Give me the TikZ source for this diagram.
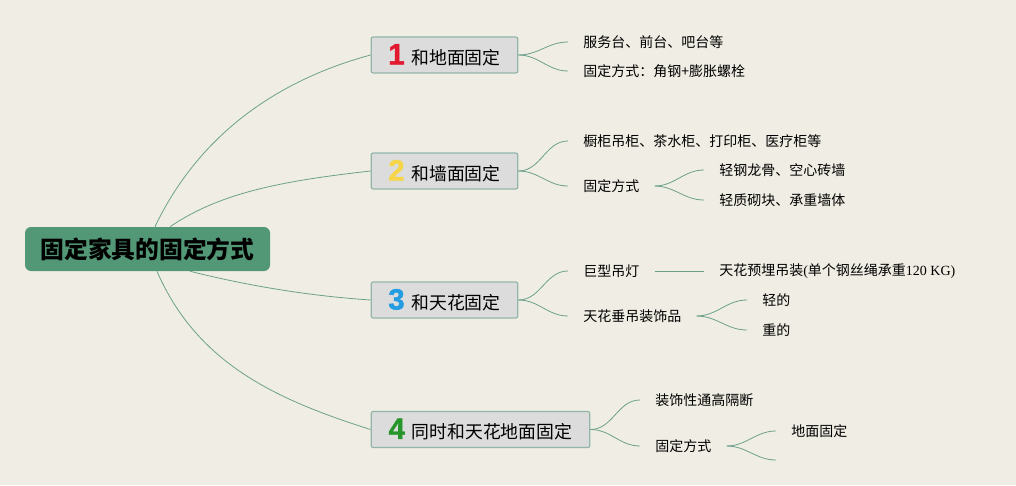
\documentclass[tikz,border=0pt]{standalone}
\usepackage{fontspec}
\setmainfont{Noto Sans CJK SC}
\newfontfamily\latinserif{Liberation Serif}
\newfontfamily\digitfont{Liberation Sans Bold}[FakeBold=1.5]
\usepackage{xcolor}
\usetikzlibrary{positioning}

\definecolor{bgcol}{RGB}{240,238,228}
\definecolor{rootgreen}{RGB}{82,152,118}
\definecolor{linkgreen}{RGB}{108,160,138}
\definecolor{boxborder}{RGB}{148,182,170}
\definecolor{boxfill}{RGB}{220,220,220}
\definecolor{numred}{RGB}{226,24,46}
\definecolor{numyellow}{RGB}{246,214,72}
\definecolor{numblue}{RGB}{36,156,226}
\definecolor{numgreen}{RGB}{38,150,42}

% big coloured number in front of each branch title
\newcommand{\branchnum}[2]{{\digitfont\fontsize{22}{22}\selectfont\color{#1}#2}\hspace{5pt}}

\begin{document}
\begin{tikzpicture}[
    x=0.75pt, y=-0.75pt,
    % central topic
    rootbox/.style={rectangle, rounded corners=4.5pt, fill=rootgreen, minimum width=183.75pt, minimum height=33pt, align=center, font=\fontsize{17.8}{20}\selectfont\bfseries},
    % main branch boxes
    branchbox/.style={rectangle, rounded corners=1.5pt, draw=boxborder, line width=0.9pt, fill=boxfill, minimum width=110pt, minimum height=27pt, inner xsep=4pt, font=\fontsize{13.4}{16}\selectfont},
    % plain text leaves
    leaf/.style={anchor=west, inner xsep=11.25pt, inner ysep=2pt, font=\fontsize{10.5}{12}\selectfont},
    link/.style={draw=linkgreen, line width=0.6pt}
]

\fill[bgcol] (0,0) rectangle (1016,485);

% 1. Central topic
\node[rootbox] (root) at (147.5,249) {固定家具的固定方式};

% 2. Main branches
\node[branchbox] (b1) at (444.5,55) {\branchnum{numred}{1}和地面固定};
\node[branchbox] (b2) at (444.5,171) {\branchnum{numyellow}{2}和墙面固定};
\node[branchbox] (b3) at (444.5,300) {\branchnum{numblue}{3}和天花固定};
\node[branchbox, minimum width=164pt] (b4) at (480.5,429.5) {\branchnum{numgreen}{4}同时和天花地面固定};

% 3. Leaves of branch 1
\node[leaf] (l11) at (568,42) {服务台、前台、吧台等};
\node[leaf] (l12) at (568,71) {固定方式：角钢+膨胀螺栓};

% 4. Leaves of branch 2
\node[leaf] (l21) at (568,141) {橱柜吊柜、茶水柜、打印柜、医疗柜等};
\node[leaf] (l22) at (568,186) {固定方式};
\node[leaf] (l221) at (704,170) {轻钢龙骨、空心砖墙};
\node[leaf] (l222) at (704,200) {轻质砌块、承重墙体};

% 5. Leaves of branch 3
\node[leaf] (l31) at (568,271) {巨型吊灯};
\node[leaf] (l311) at (704,271) {天花预埋吊装{\latinserif(}单个钢丝绳承重{\latinserif 120 KG)}};
\node[leaf] (l32) at (568,316) {天花垂吊装饰品};
\node[leaf] (l321) at (747,300) {轻的};
\node[leaf] (l322) at (747,330) {重的};

% 6. Leaves of branch 4
\node[leaf] (l41) at (640,400) {装饰性通高隔断};
\node[leaf] (l42) at (640,446) {固定方式};
\node[leaf] (l421) at (776,431) {地面固定};
\coordinate (l422) at (776,460);

% 7. Links from the central topic
\draw[link] ([xshift=5.6pt]root.north) .. controls +(43,-90) and +(-96,26) .. (b1.west);
\draw[link] ([xshift=16.9pt]root.north) .. controls +(50,-34) and +(-89,10) .. (b2.west);
\draw[link] ([xshift=31.9pt]root.south) .. controls +(60,15) and +(-60,-4) .. (b3.west);
\draw[link] ([xshift=7.1pt]root.south) .. controls +(40,92) and +(-95,-30) .. (b4.west);

% 8. Links to the leaves
\draw[link] (b1.east) to[out=0, in=180] (l11.west);
\draw[link] (b1.east) to[out=0, in=180] (l12.west);
\draw[link] (b2.east) to[out=0, in=180] (l21.west);
\draw[link] (b2.east) to[out=0, in=180] (l22.west);
\draw[link] (l22.east) to[out=0, in=180] (l221.west);
\draw[link] (l22.east) to[out=0, in=180] (l222.west);
\draw[link] (b3.east) to[out=0, in=180] (l31.west);
\draw[link] (b3.east) to[out=0, in=180] (l32.west);
\draw[link] (l31.east) -- (l311.west);
\draw[link] (l32.east) to[out=0, in=180] (l321.west);
\draw[link] (l32.east) to[out=0, in=180] (l322.west);
\draw[link] (b4.east) to[out=0, in=180] (l41.west);
\draw[link] (b4.east) to[out=0, in=180] (l42.west);
\draw[link] (l42.east) to[out=0, in=180] (l421.west);
\draw[link] (l42.east) to[out=0, in=180] (l422);

\end{tikzpicture}
\end{document}
